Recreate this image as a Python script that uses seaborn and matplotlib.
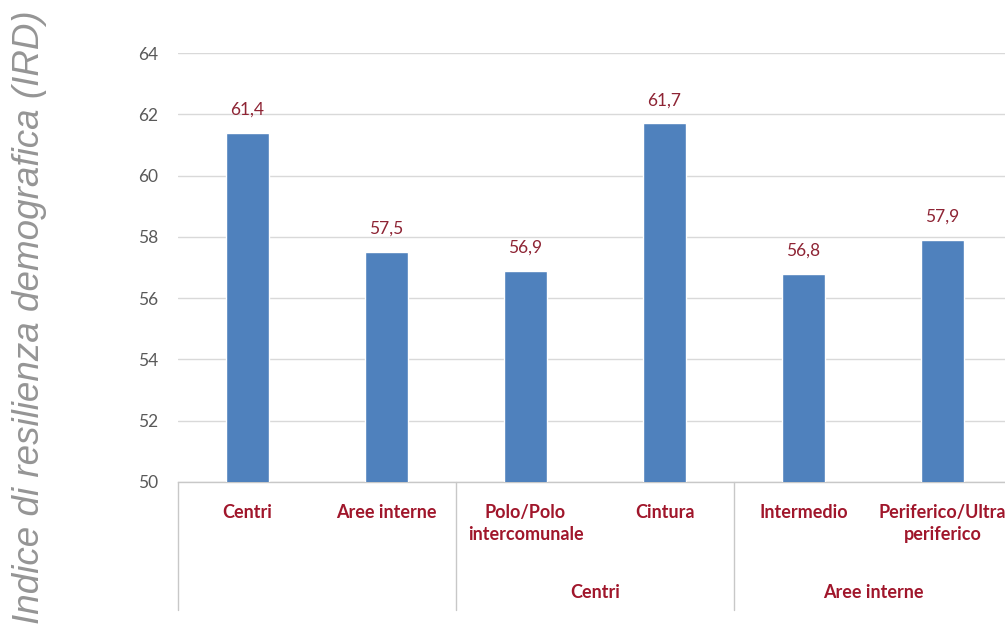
import matplotlib
matplotlib.use("Agg")
import matplotlib.pyplot as plt
import seaborn as sns
import pandas as pd

categories = ["Centri", "Aree interne", "Polo/Polo\nintercomunale", "Cintura",
              "Intermedio", "Periferico/Ultra\nperiferico"]
values = [61.4, 57.5, 56.9, 61.7, 56.8, 57.9]
value_labels = ["61,4", "57,5", "56,9", "61,7", "56,8", "57,9"]
groups = ["Centri", "Aree interne"]
group_spans = [(2, 3), (4, 5)]
yticks = [50, 52, 54, 56, 58, 60, 62, 64]
ylabel = "Indice di resilienza demografica (IRD)"

sns.set_theme(style="white")
plt.rcParams['font.family'] = ['Lato', 'DejaVu Sans']

fig = plt.figure(figsize=(10.05, 6.32), dpi=100)
ax = fig.add_axes([178/1005, 1-482/632, (1012-178)/1005, (482-53)/632])

df = pd.DataFrame({"cat": categories, "val": values})
sns.barplot(data=df, x="cat", y="val", color="#4F81BD", width=0.31,
            saturation=1, ax=ax, zorder=3)

ax.set_ylim(50, 64)
ax.set_xlim(-0.5, 5.5)
ax.set_yticks(yticks)
ax.set_yticklabels([str(t) for t in yticks], color="#595959", fontsize=12.5)
ax.tick_params(axis='y', length=0, pad=14)
ax.tick_params(axis='x', length=0)
ax.set_xticks([])
ax.set_xlabel("")
ax.set_ylabel("")
ax.grid(axis='y', color="#D9D9D9", linewidth=1, zorder=0)
for s in ["top", "right", "left"]:
    ax.spines[s].set_visible(False)
ax.spines["bottom"].set_color("#C8C8C8")
ax.spines["bottom"].set_linewidth(1)

red = "#A0162B"
val_red = "#8E2434"
for i, (v, lab) in enumerate(zip(values, value_labels)):
    ax.annotate(lab, (i, v), xytext=(0, 11), textcoords="offset points",
                ha="center", va="bottom", color=val_red, fontsize=12.5)

trans = ax.get_xaxis_transform()
for i, c in enumerate(categories):
    ax.text(i, -0.052, c, transform=trans, ha="center", va="top",
            color=red, fontsize=13, fontweight="bold", linespacing=1.3)
for g, (a, b) in zip(groups, group_spans):
    ax.text((a + b) / 2, -0.258, g, transform=trans, ha="center", va="center",
            color=red, fontsize=13, fontweight="bold")

for xb in [-0.5, 1.5, 3.5, 5.5]:
    ax.plot([xb, xb], [0, -0.298], transform=trans, color="#C8C8C8",
            linewidth=1, clip_on=False)

fig.text(30/1005, 1-317/632, ylabel, rotation=90, ha="center", va="center",
         fontsize=26.5, style="italic", color="#959595",
         family=["Liberation Sans", "DejaVu Sans"])

fig.savefig("out.png", dpi=100)
